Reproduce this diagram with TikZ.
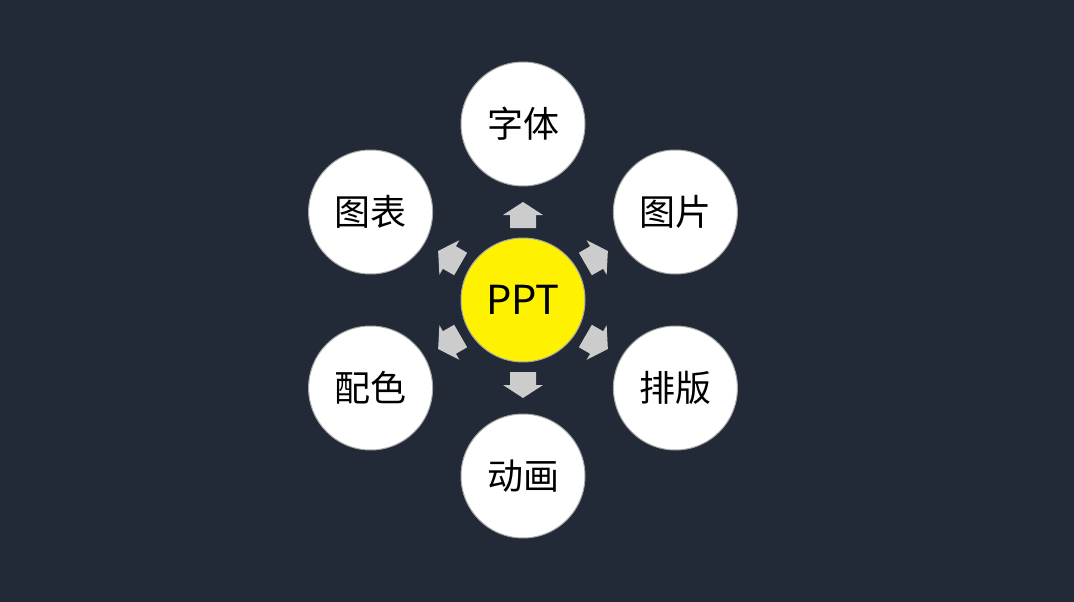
\documentclass[tikz,border=0pt]{standalone}
\usepackage{fontspec}
\usetikzlibrary{calc}
\newfontfamily\cjk{Noto Sans CJK SC}
\definecolor{bgin}{HTML}{212A36}\definecolor{bgout}{HTML}{282828}
\pgfdeclareradialshading{bgsh}{\pgfpoint{0bp}{0bp}}{color(0bp)=(bgin); color(30bp)=(bgin); color(37bp)=(bgout); color(50bp)=(bgout)}
\begin{document}
\begin{tikzpicture}[x=1pt,y=-1pt,
  outer/.style={circle,fill=white,draw=gray!70,line width=1pt,minimum size=124pt,inner sep=0pt,font=\cjk\fontsize{36}{36}\selectfont},
  hub/.style={circle,fill=yellow,draw=gray!70,line width=1pt,minimum size=124pt,inner sep=0pt,font=\cjk\fontsize{40}{40}\selectfont},
  blk/.style={fill=black!20,draw=none}]
\useasboundingbox (0,0) rectangle (1074,602);
\shade[shading=bgsh] (-113,-349) rectangle (1187,951);
\node[hub] (c) at (523,300) {PPT};
\foreach \n/\a/\t in {t/90/字体, tr/30/图片, br/-30/排版, b/-90/动画, bl/-150/配色, tl/150/图表}{
  \node[outer] (\n) at ($(c)+(\a:176pt)$) {\t};
  \begin{scope}[shift={(c)},rotate=\a-90]
    \fill[blk] (-13,-72) -- (-13,-85) -- (-20,-85) -- (0,-98) -- (20,-85) -- (13,-85) -- (13,-72) -- cycle;
  \end{scope}
}
\end{tikzpicture}
\end{document}
